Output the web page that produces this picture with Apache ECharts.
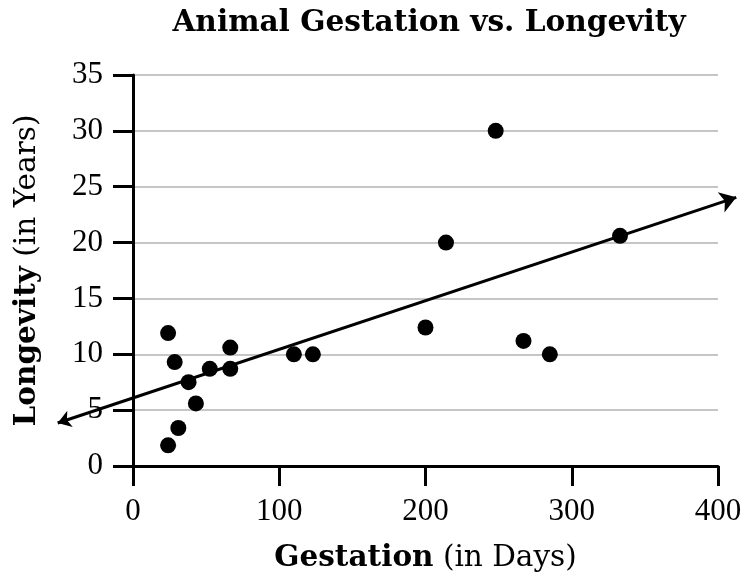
<!DOCTYPE html>
<html>
<head>
<meta charset="utf-8">
<script src="https://cdn.jsdelivr.net/npm/echarts@6/dist/echarts.min.js"></script>
<style>
html,body{margin:0;padding:0;background:#fff;}
#chart{width:742px;height:575px;}
</style>
</head>
<body>
<div id="chart"></div>
<script>
// Gestation (days) and longevity (years) of animals
var gestationDays = [24, 28.5, 38, 43, 31, 24, 52.5, 66.5, 66.5, 110, 123, 200, 214, 248, 267, 285, 333];
var longevityYears = [11.9, 9.3, 7.5, 5.6, 3.4, 1.85, 8.7, 10.6, 8.7, 10, 10, 12.4, 20, 30, 11.2, 10, 20.6];
// Trend line endpoints (arrow tips)
var trendStart = [-51.5, 3.85];
var trendEnd = [412.5, 24.05];
var xTicks = [0, 100, 200, 300, 400];
var yTicks = [0, 5, 10, 15, 20, 25, 30, 35];

var points = gestationDays.map(function (g, i) { return [g, longevityYears[i]]; });

var serif = 'Liberation Serif';
var nameFont = 29.5;
var chart = echarts.init(document.getElementById('chart'));
chart.setOption({
  animation: false,
  title: {
    text: 'Animal Gestation vs. Longevity',
    left: 424, textAlign: 'center', top: 3,
    textStyle: { fontFamily: 'DejaVu Serif', fontWeight: 'bold', fontSize: 29.6, color: '#000' }
  },
  grid: { left: 133, right: 24, top: 75, bottom: 109, containLabel: false, outerBoundsMode: 'none' },
  xAxis: {
    type: 'value', min: xTicks[0], max: xTicks[xTicks.length - 1], interval: 100,
    axisLine: { onZero: false, lineStyle: { color: '#000', width: 3 } },
    axisTick: { show: true, length: 20, lineStyle: { color: '#000', width: 3 } },
    splitLine: { show: false },
    axisLabel: { margin: 30, fontFamily: serif, fontSize: 31, color: '#000' },
    name: '{b|Gestation} (in Days)',
    nameLocation: 'middle', nameGap: 77,
    nameTextStyle: {
      fontFamily: 'DejaVu Serif', fontSize: nameFont, color: '#000',
      rich: { b: { fontFamily: 'DejaVu Serif', fontWeight: 'bold', fontSize: nameFont, color: '#000' } }
    }
  },
  yAxis: {
    type: 'value', min: yTicks[0], max: yTicks[yTicks.length - 1], interval: 5,
    axisLine: { show: true, lineStyle: { color: '#000', width: 3 } },
    axisTick: { show: true, length: 20, lineStyle: { color: '#000', width: 3 } },
    splitLine: { show: true, lineStyle: { color: '#b3b3b3', width: 1.5 } },
    axisLabel: { margin: 30, fontFamily: serif, fontSize: 31, color: '#000' },
    name: '{b|Longevity} (in Years)',
    nameLocation: 'middle', nameGap: 91,
    nameTextStyle: {
      fontFamily: 'DejaVu Serif', fontSize: nameFont, color: '#000',
      rich: { b: { fontFamily: 'DejaVu Serif', fontWeight: 'bold', fontSize: nameFont, color: '#000' } }
    }
  },
  series: [
    {
      type: 'lines', coordinateSystem: 'cartesian2d', clip: false, z: 3,
      symbol: ['arrow', 'arrow'], symbolSize: [13, 16],
      lineStyle: { color: '#000', width: 3, opacity: 1, curveness: 0 },
      data: [{ coords: [trendStart, trendEnd] }]
    },
    {
      type: 'scatter', symbol: 'circle', symbolSize: 16, z: 4,
      itemStyle: { color: '#000', opacity: 1 },
      data: points
    }
  ]
});
</script>
</body>
</html>
